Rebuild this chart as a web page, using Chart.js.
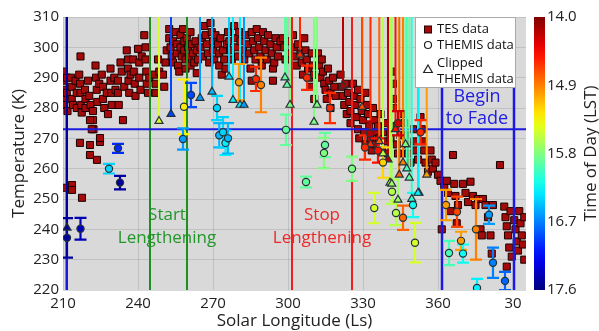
<!DOCTYPE html>
<html>
<head>
<meta charset="utf-8">
<script src="https://cdn.jsdelivr.net/npm/chart.js@4.4.1/dist/chart.umd.min.js"></script>
<style>
  body { margin: 0; background: #fff; }
</style>
</head>
<body>
<canvas id="chart" width="599" height="331"></canvas>
<script>
// axis ticks
const xTicks = [210, 240, 270, 300, 330, 360, 390];
const yTicks = [220, 230, 240, 250, 260, 270, 280, 290, 300, 310];
const lstTicks = [14.0, 14.9, 15.8, 16.7, 17.6];

// TES data: [Ls, T]
const tesData = [
  [210.3,292],[210.3,289],[210.3,286],[210.3,283],[210.5,281],[211.5,290],[211.5,285],[211.8,279],
  [213.2,290],[213.5,287],[213.5,283],[214,281],[215,289],[215.5,285],[215.5,280],
  [217,297],[216.5,291],[216.8,288],[217,285],[217.3,281],[217.5,278.5],
  [218.8,286],[219,283],[219,280],[220,289],[220.5,284],[221,281],
  [222,279],[222,276],[222.2,273],[223,294],[223.2,290],[223.5,286],[223.7,282],[224.5,288],
  [225.5,291],[226,287],[226,283],[226.5,280],[227.5,285],[228,278],
  [229,293],[229,289],[229.3,285],[229.5,281],[230.5,290],[231,286],
  [232,289],[232,285],[232.3,281],[233,295],[233.5,292],[234,276],[234.5,287],
  [235.5,299],[236,296],[236,293],[236.2,289],[236.5,285],[237,291],
  [238,296],[238.3,292],[238.7,288],[239,284],[240,299.5],[240.5,295],[240.5,290],[241,286],[241.5,297],
  [242.5,304],[243,300],[243,296],[243.3,292],[243.5,288],[244,285],[244.5,290],
  [246.5,291],[247,288],[247,285],[248,296],[248.5,292],
  [250,291],[250.5,287],[251,295],[251.5,299],
  [216.8,268.5],[220.8,267.8],[220.8,264.5],[223.6,262.9],[224.8,268.8],[224.8,270.1],
  [220.8,276],[221.5,273],[210,253.7],[213.6,254.6],[213.6,253],[217.6,250.4],
  [252.5,306],[252.5,303],[253,300],[253.5,297],[254,295],[254,302],
  [255,305],[255.5,301],[255.5,298],[256,294],[256.5,292],[257,304],[257,300],[257.5,297],
  [258,306],[258.5,302],[258.5,299],[259,296],[259,293],[259.5,303],
  [260,300],[260.5,297],[261,294],[261,305],[261.5,301],[262,298],[262.5,295],[263,302],[263.5,291.5],[263.5,299],
  [264,296],[265,300],[265.5,303],[266,297],[266.5,307],[267,304],[267.5,301],[268,298],[268.5,295],
  [269,308],[269.5,305],[270,302],[270,299],[270.5,296],[271,304],
  [272,301],[272.5,298],[272.5,294],[273,303],[273.5,291],
  [274,299],[274.5,296],[275,293],[275.5,301],[276,305],[276.5,302],[277,299],[277.5,296],
  [278.5,307],[279,303],[279.5,300],[280,297],[280.5,305],[281,302],[282,299],[282.5,296],[283,304],
  [284,301],[284.5,298],[285,293],[285.5,289],[285.5,305],[286,302],[286.5,299],[287,296],[287.5,306],
  [288,303],[288.5,300],[289,297],[289.5,294],[290,305],[290.5,302],[291,299],[291.5,296],[292,304],
  [293,301],[293.5,298],[294,293],[294,289],[294.5,295],[295,303],[295.5,300],[296,297],[297,302],
  [298,303],[298.5,300],[299,296],[300,302],[300.5,298],
  [302,304],[302.5,300],[303,297],[303.5,294],[304,301],[305,298],[305.5,295],[306,291],[306.5,303],
  [307,299],[307.5,296],[308,293],[308.5,290],[309,287],[309.5,298],[310,294],[310.5,283],[310.5,291],
  [312,298],[312.5,294],[313,290],[313.5,296],[314,292],[314.5,288],[315,286],[315.5,283],[316,293],[316.5,289],[317,285],[317,280],
  [318,290],[318.5,287],[319,284],
  [321,291],[321.5,287],[322,284],[322.5,281],[323,288],[323.5,278],[324,285],[324.5,282],[325,279],[325,275],
  [326,288],[326.5,284],[327,281],[327.5,277],[328,273],[328,286],[328.5,270],[329,283],[329.5,279],[330,276],
  [330.5,272],[331,268],[331,285],[331.5,281],[332,278],[332.5,274],[333,270],[333.5,266],[334,280],[334.5,276],
  [335,272],[335,268],[336,274],[336.5,270],
  [337,278],[337.5,266],[338,272],[339,269],[339.5,275],[340,265],[341,270],[341.5,292],[342,288],[342,283],[342.5,280],
  [343,274],[343.5,268],[344,265],[345,271],[346,278],[346.5,275],[347,271],[347.5,268],[348,265],[349,262],
  [350,273],[350.5,269],[351,266],[352,263],[353,277],[353.5,273],[354,269],[354.5,266],[355,262],[356,259],
  [357,266],[357.5,263],[358,260],[359,262],[360,258],[361,256],[361.5,240],
  [362.5,254],[363.5,256],[364,252],[365,246],[366,264.5],[366.5,255],[367,251],[367.5,242],[368,248],
  [370,255],[371,252],[372,249],[373,255.7],[374,251],[375,248],[376,250],[377,240],[377.5,238],
  [378,250],[379,248],[380,244],[381,238],[381.5,232],[382,248],[384.8,261.2],
  [386.5,247.5],[387,244],[387.5,241],[387.5,227.7],[388,238],[388.5,234],[389,246],[389.5,231],
  [390.5,243],[391,240],[391.5,236],[392,233],[392.5,246],[393,242],[393.5,238],[394,235],[394.5,244],[394.5,230]
];

// THEMIS data: [Ls, T, error, LST]
const themisData = [
  [211.6,237.2,6.5,17.5],[217,240.2,3.6,17.4],[228.4,260,1.6,16.4],[232,266.7,1.5,17.0],
  [232.8,255.4,2.2,17.5],[258.4,280.4,9,15.3],[261.2,284.3,4,16.9],[258,269.8,3.5,16.6],
  [271.6,280,4,16.4],[272.5,271,4,16.5],[274,272,5,16.4],[275,268.5,4,16.3],[276,270,5,16.5],
  [280.4,288.5,6,15.0],[287.2,289.6,4,14.6],[289.2,287.6,9,14.9],[299.2,272.8,5,15.9],
  [307.6,290,4,14.6],[307.2,255.6,1.8,15.9],[314.8,267.8,4,15.9],[314.4,265.2,5,15.8],
  [316.8,280,5,14.6],[325.6,260,4,15.8],[330.8,267,4,14.6],[332.8,271.6,4,14.2],
  [334.5,247,5,15.5],[336,266,4,14.5],[338,262,5,15.2],
  [341.6,252.4,4,15.6],[343.2,245.4,4,15.6],[346,243.8,4,14.8],[350,248,4,16.2],[350.8,235.6,6.5,15.5],
  [363.2,248,5,15.0],[367.6,245.8,5,14.7],[369.2,236.2,3,15.0],[375.2,240,10,14.9],
  [364.4,232.2,4,16.0],[370,232,3,16.2],[380.4,244.8,3,16.6],[382,229,5,16.7],
  [375.6,220.7,3,16.3],[386.8,223,3,16.8],[353,272,4,14.6],[344,275,4,14.3]
];

// clipped THEMIS data: [Ls, T, LST]
const clippedData = [
  [211.6,240.5,17.5],[248.4,275.7,15.5],[253.2,278,16.9],[264.8,283.3,16.6],[269.6,285.3,16.5],
  [276.4,290.3,16.4],[278,282.6,16.3],[280.8,281,16.3],[282.4,281,16.6],[298.8,290,15.9],
  [299.6,287.6,15.9],[300.8,281,15.8],[304.8,297.5,14.6],[310.4,275.4,15.8],[311.6,281,15.8],
  [322,287.3,14.2],[329.6,280.3,14.7],[340.8,255.3,15.6],[344,249.7,15.7],[352.4,252,16.1],
  [336.5,269,14.8],[343,273,14.5],[347,268,15.8],
  [333,268,14.6],[338,265,15.6],[340,263,14.2],[341.5,255,15.7],[344.5,258,14.8],[346,262,14.9],
  [347.5,260,16.0],[348.5,257,15.9],[349.5,250,16.1],[352,252,16.3],[355.5,258,15.0]
];

// reference lines
const freezeT = 273;
const startLs = [244.8, 259.6];
const stopLs = [301.6, 325.6];
const fadeLs = [211.5, 361.6, 390.4];

function jet(lst) {
  const v = (17.6 - lst) / 3.6;
  const c = t => Math.round(255 * Math.max(0, Math.min(1, 1.5 - Math.abs(4 * v - t))));
  return 'rgb(' + c(3) + ',' + c(2) + ',' + c(1) + ')';
}

const FONT = "'Open Sans', 'DejaVu Sans', sans-serif";
Chart.defaults.font.family = FONT;
Chart.defaults.color = '#222';

const decor = {
  id: 'decor',
  beforeDraw(chart) {
    const {ctx, chartArea: a} = chart;
    ctx.save();
    ctx.fillStyle = '#d9d9d9';
    ctx.fillRect(a.left, a.top, a.right - a.left, a.bottom - a.top);
    ctx.restore();
  },
  afterDatasetDraw(chart, args) {
    if (args.index !== 0) return;
    const {ctx, chartArea: a, scales: {x, y}} = chart;
    ctx.save();
    ctx.beginPath();
    ctx.rect(a.left, a.top, a.right - a.left, a.bottom - a.top);
    ctx.clip();
    // reference lines
    const vline = (ls, col, w) => {
      const px = x.getPixelForValue(ls);
      ctx.strokeStyle = col; ctx.lineWidth = w;
      ctx.beginPath(); ctx.moveTo(px, a.top); ctx.lineTo(px, a.bottom); ctx.stroke();
    };
    startLs.forEach(v => vline(v, '#1f8f1f', 2));
    stopLs.forEach(v => vline(v, '#f01e1e', 2));
    fadeLs.forEach(v => vline(v, '#1a1ae0', 2.5));
    const py = y.getPixelForValue(freezeT);
    ctx.strokeStyle = '#1a1ae0'; ctx.lineWidth = 2;
    ctx.beginPath(); ctx.moveTo(a.left, py); ctx.lineTo(a.right, py); ctx.stroke();
    // clipped lines
    clippedData.forEach(([ls, t, lst]) => {
      const px = x.getPixelForValue(ls);
      ctx.strokeStyle = jet(lst); ctx.lineWidth = 2;
      ctx.beginPath(); ctx.moveTo(px, y.getPixelForValue(t)); ctx.lineTo(px, a.top); ctx.stroke();
    });
    // error bars
    themisData.forEach(([ls, t, e, lst]) => {
      const px = x.getPixelForValue(ls);
      const y1 = y.getPixelForValue(t - e), y2 = y.getPixelForValue(t + e);
      ctx.strokeStyle = jet(lst); ctx.lineWidth = 2.2;
      ctx.beginPath();
      ctx.moveTo(px, y1); ctx.lineTo(px, y2);
      ctx.moveTo(px - 6, y1); ctx.lineTo(px + 6, y1);
      ctx.moveTo(px - 6, y2); ctx.lineTo(px + 6, y2);
      ctx.stroke();
    });
    ctx.restore();
  },
  afterDraw(chart) {
    const {ctx, chartArea: a, scales: {x, y}} = chart;
    ctx.save();
    // annotations
    const note = (lines, ls, temps, col, size) => {
      ctx.fillStyle = col;
      ctx.font = size + 'px ' + FONT;
      ctx.textAlign = 'center'; ctx.textBaseline = 'middle';
      lines.forEach((s, i) => ctx.fillText(s, x.getPixelForValue(ls), y.getPixelForValue(temps[i])));
    };
    note(['Start', 'Lengthening'], 251.6, [244.8, 237.2], '#22962a', 17);
    note(['Stop', 'Lengthening'], 313.6, [244.8, 237.2], '#ee2828', 17);
    note(['Begin', 'to Fade'], 375.6, [283.6, 276.4], '#2020e0', 18);

    // legend box
    const lx = a.right - 111, ly = a.top;
    ctx.fillStyle = '#fff';
    ctx.fillRect(lx, ly, 100, 70);
    ctx.strokeStyle = '#aaa'; ctx.lineWidth = 1;
    ctx.strokeRect(lx + 0.5, ly + 0.5, 100, 70);
    ctx.font = '13px ' + FONT;
    ctx.fillStyle = '#111'; ctx.textAlign = 'left'; ctx.textBaseline = 'middle';
    const sx = lx + 13;
    ctx.fillStyle = '#a50a0a'; ctx.strokeStyle = '#200';
    ctx.fillRect(sx - 3.5, ly + 9, 7, 7); ctx.strokeRect(sx - 3.5, ly + 9, 7, 7);
    ctx.strokeStyle = '#222'; ctx.lineWidth = 1.2;
    ctx.beginPath(); ctx.arc(sx, ly + 28, 3.5, 0, Math.PI * 2); ctx.stroke();
    ctx.beginPath(); ctx.moveTo(sx, ly + 48); ctx.lineTo(sx + 4.3, ly + 55.5); ctx.lineTo(sx - 4.3, ly + 55.5); ctx.closePath(); ctx.stroke();
    ctx.fillStyle = '#111';
    ctx.fillText('TES data', sx + 9, ly + 12);
    ctx.fillText('THEMIS data', sx + 9, ly + 28);
    ctx.fillText('Clipped', sx + 9, ly + 46);
    ctx.fillText('THEMIS data', sx + 9, ly + 62);

    // colorbar
    const cx = a.right + 8, cw = 11;
    const grad = ctx.createLinearGradient(0, a.top, 0, a.bottom);
    for (let i = 0; i <= 20; i++) {
      const lst = 14.0 + 3.6 * i / 20;
      grad.addColorStop(i / 20, jet(lst));
    }
    ctx.fillStyle = grad;
    ctx.fillRect(cx, a.top, cw, a.bottom - a.top);
    ctx.font = '15px ' + FONT;
    ctx.fillStyle = '#222'; ctx.textAlign = 'left'; ctx.textBaseline = 'middle';
    lstTicks.forEach(v => {
      const py = a.top + (v - 14.0) / 3.6 * (a.bottom - a.top);
      ctx.fillText(v.toFixed(1), cx + cw + 2, py);
    });
    ctx.translate(591, (a.top + a.bottom) / 2);
    ctx.rotate(-Math.PI / 2);
    ctx.font = '17px ' + FONT;
    ctx.textAlign = 'center';
    ctx.fillText('Time of Day (LST)', 0, 0);
    ctx.restore();
  }
};

const ctx = document.getElementById('chart').getContext('2d');
const chart = new Chart(ctx, {
  type: 'scatter',
  data: {
    datasets: [
      {
        label: 'TES data',
        data: tesData.map(p => ({x: p[0], y: p[1]})),
        pointStyle: 'rect',
        pointRadius: 5,
        backgroundColor: '#a50a0a',
        borderColor: '#1a0000',
        borderWidth: 1,
        order: 3
      },
      {
        label: 'THEMIS data',
        data: themisData.map(p => ({x: p[0], y: p[1]})),
        pointStyle: 'circle',
        pointRadius: 3.6,
        backgroundColor: themisData.map(p => jet(p[3])),
        borderColor: '#263238',
        borderWidth: 1.2,
        order: 1
      },
      {
        label: 'Clipped THEMIS data',
        data: clippedData.map(p => ({x: p[0], y: p[1]})),
        pointStyle: 'triangle',
        pointRadius: 4.6,
        backgroundColor: clippedData.map(p => jet(p[2])),
        borderColor: '#263238',
        borderWidth: 1.2,
        order: 2
      }
    ]
  },
  options: {
    responsive: false,
    animation: false,
    layout: { padding: { left: 0, right: 73, top: 17, bottom: 0 } },
    plugins: { legend: { display: false }, tooltip: { enabled: false } },
    scales: {
      x: {
        type: 'linear', min: 210, max: 395.2,
        afterBuildTicks: s => { s.ticks = xTicks.map(v => ({value: v})); },
        afterFit: s => { s.height = 41; },
        ticks: { padding: 5, font: { size: 15 }, color: '#222', callback: v => v > 360 ? v - 360 : v },
        grid: { color: 'rgba(150,150,150,0.35)', drawTicks: false },
        border: { display: false },
        title: { display: true, text: 'Solar Longitude (Ls)', font: { size: 17 }, color: '#222', padding: { top: 0, bottom: 0 } }
      },
      y: {
        min: 220, max: 310,
        afterBuildTicks: s => { s.ticks = yTicks.map(v => ({value: v})); },
        afterFit: s => { s.width = 63; },
        ticks: { padding: 4, font: { size: 15 }, color: '#222' },
        grid: { color: 'rgba(150,150,150,0.35)', drawTicks: false },
        border: { display: false },
        title: { display: true, text: 'Temperature (K)', font: { size: 17 }, color: '#222', padding: { top: 9, bottom: 0 } }
      }
    }
  },
  plugins: [decor]
});
</script>
</body>
</html>
